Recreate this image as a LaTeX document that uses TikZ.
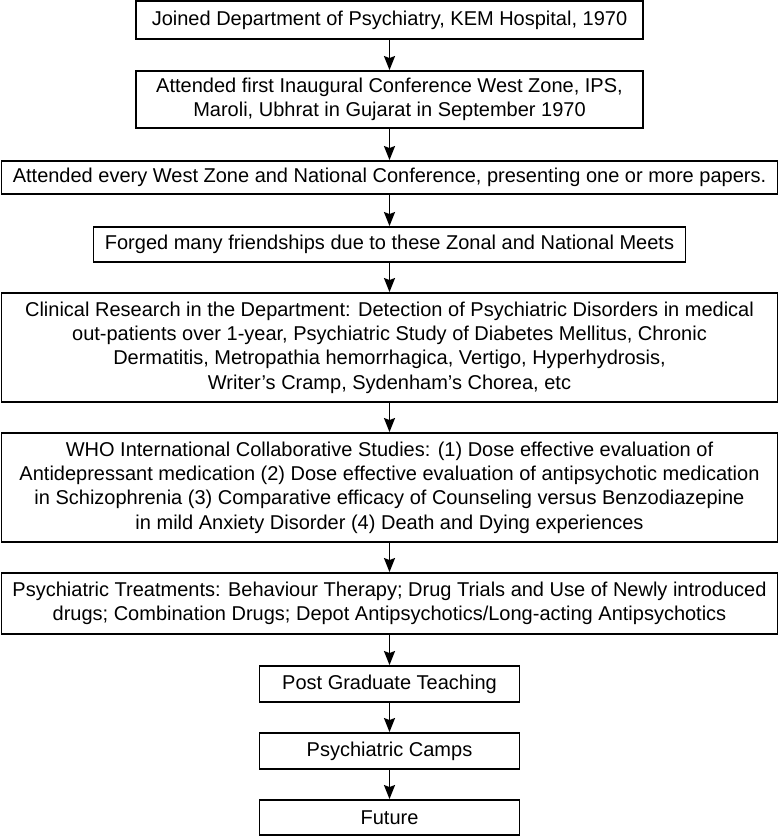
\documentclass[tikz,border=0pt]{standalone}
\usepackage{fontspec}
\setmainfont{Liberation Sans}
\usetikzlibrary{arrows.meta}
\begin{document}
\begin{tikzpicture}[x=1pt,y=-1pt,
  box/.style={draw, line width=1.9pt, inner sep=0pt, align=center,
    font=\fontsize{20}{24.3}\selectfont},
  arr/.style={line width=1.8pt, -{Stealth[length=14pt,width=11pt,inset=2pt]}}]
\useasboundingbox (0,0) rectangle (779,836);
\node[box, minimum width=507, minimum height=38] (b1) at (389.5,20) {Joined Department of Psychiatry, KEM Hospital, 1970};
\node[box, minimum width=507, minimum height=57] (b2) at (389.5,99.5) {Attended first Inaugural Conference West Zone, IPS,\\Maroli, Ubhrat in Gujarat in September 1970};
\node[box, minimum width=776, minimum height=33] (b3) at (389.5,177.5) {Attended every West Zone and National Conference, presenting one or more papers.};
\node[box, minimum width=592, minimum height=35] (b4) at (389.5,244.5) {Forged many friendships due to these Zonal and National Meets};
\node[box, minimum width=776, minimum height=109] (b5) at (389.5,347.5) {Clinical Research in the Department: Detection of Psychiatric Disorders in medical\\out-patients over 1-year, Psychiatric Study of Diabetes Mellitus, Chronic\\Dermatitis, Metropathia hemorrhagica, Vertigo, Hyperhydrosis,\\Writer’s Cramp, Sydenham’s Chorea, etc};
\node[box, minimum width=776, minimum height=109] (b6) at (389.5,487.5) {WHO International Collaborative Studies: (1) Dose effective evaluation of\\Antidepressant medication (2) Dose effective evaluation of antipsychotic medication\\in Schizophrenia (3) Comparative efficacy of Counseling versus Benzodiazepine\\in mild Anxiety Disorder (4) Death and Dying experiences};
\node[box, minimum width=776, minimum height=61] (b7) at (389.5,603.5) {Psychiatric Treatments: Behaviour Therapy; Drug Trials and Use of Newly introduced\\drugs; Combination Drugs; Depot Antipsychotics/Long-acting Antipsychotics};
\node[box, minimum width=260, minimum height=36] (b8) at (389.5,684) {Post Graduate Teaching};
\node[box, minimum width=260, minimum height=36] (b9) at (389.5,751) {Psychiatric Camps};
\node[box, minimum width=260, minimum height=35] (b10) at (389.5,817.5) {Future};
\foreach \a/\b in {b1/b2,b2/b3,b3/b4,b4/b5,b5/b6,b6/b7,b7/b8,b8/b9,b9/b10}
  \draw[arr] (\a) -- (\b);
\end{tikzpicture}
\end{document}
